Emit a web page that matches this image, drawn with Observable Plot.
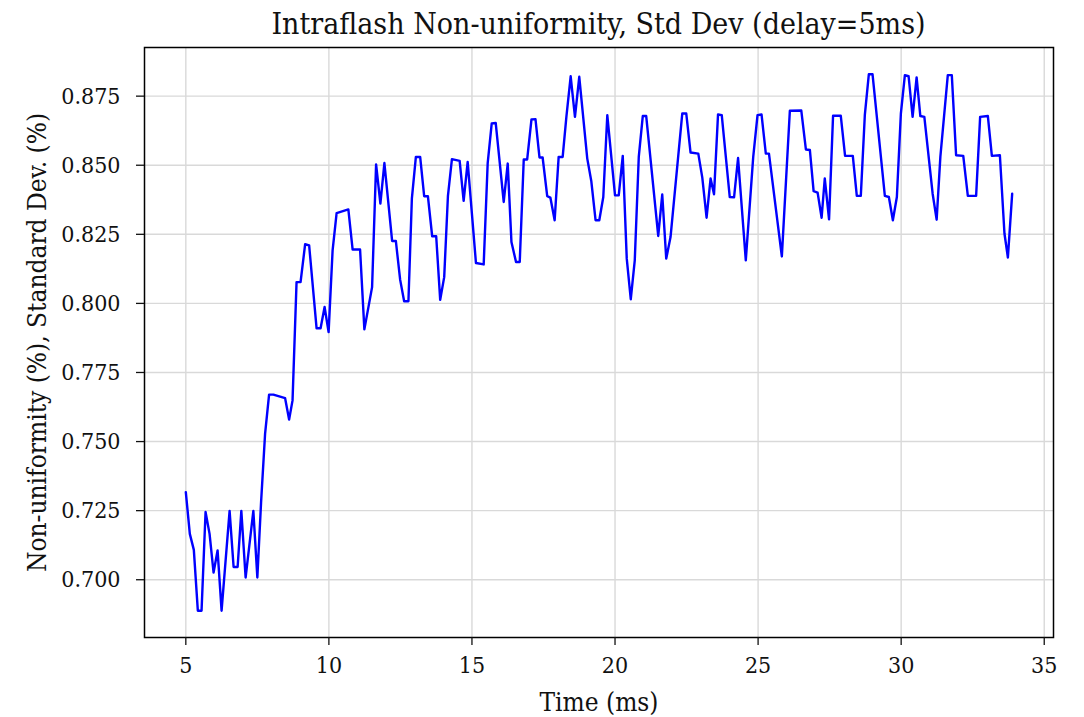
<!DOCTYPE html>
<html>
<head>
<meta charset="utf-8">
<script src="https://cdn.jsdelivr.net/npm/d3@7"></script>
<script src="https://cdn.jsdelivr.net/npm/@observablehq/plot@0.6"></script>
<style>
  html, body { margin: 0; padding: 0; background: #fff; }
  #title {
    width: 1084px; height: 45px; line-height: 48px; box-sizing: border-box;
    padding-left: 113px; text-align: center; white-space: nowrap;
    font-family: "DejaVu Serif Condensed", "DejaVu Serif", serif; font-stretch: condensed;
    font-size: 30px; color: #111;
  }
  svg { display: block; }
</style>
</head>
<body>
<div id="title"></div>
<div id="chart"></div>
<script>
const titleText = "Intraflash Non-uniformity, Std Dev (delay=5ms)";
const xLabel = "Time (ms)";
const yLabel = "Non-uniformity (%), Standard Dev. (%)";
const xTicks = [5, 10, 15, 20, 25, 30, 35];
const yTicks = [0.700, 0.725, 0.750, 0.775, 0.800, 0.825, 0.850, 0.875];

// time (ms) of each vertex of the curve
const times = [
  5.00, 5.14, 5.28, 5.42, 5.55, 5.69, 5.83, 5.97, 6.11, 6.25,
  6.53, 6.67, 6.81, 6.94, 7.09, 7.36, 7.50, 7.63, 7.77, 7.91,
  8.06, 8.47, 8.61, 8.73, 8.87, 9.01, 9.17, 9.31, 9.57, 9.71,
  9.85, 9.99, 10.13, 10.27, 10.68, 10.83, 11.09, 11.24, 11.51, 11.65,
  11.80, 11.94, 12.21, 12.34, 12.49, 12.63, 12.78, 12.90, 13.04, 13.19,
  13.33, 13.46, 13.61, 13.75, 13.89, 14.03, 14.16, 14.30, 14.57, 14.71,
  14.85, 15.14, 15.41, 15.55, 15.69, 15.83, 16.11, 16.25, 16.38, 16.54,
  16.67, 16.81, 16.93, 17.08, 17.22, 17.36, 17.47, 17.63, 17.74, 17.89,
  18.03, 18.17, 18.30, 18.45, 18.60, 18.75, 19.03, 19.17, 19.32, 19.45,
  19.59, 19.73, 20.00, 20.13, 20.27, 20.41, 20.55, 20.69, 20.83, 20.97,
  21.09, 21.51, 21.65, 21.79, 21.94, 22.35, 22.49, 22.64, 22.91, 23.05,
  23.20, 23.34, 23.46, 23.60, 23.73, 24.01, 24.16, 24.30, 24.57, 24.83,
  24.98, 25.12, 25.27, 25.38, 25.83, 26.11, 26.51, 26.67, 26.81, 26.94,
  27.08, 27.22, 27.33, 27.48, 27.62, 27.89, 28.04, 28.31, 28.45, 28.59,
  28.73, 28.87, 29.00, 29.43, 29.57, 29.71, 29.85, 29.99, 30.13, 30.26,
  30.40, 30.54, 30.67, 30.81, 31.10, 31.24, 31.37, 31.63, 31.77, 31.92,
  32.17, 32.33, 32.62, 32.76, 33.03, 33.17, 33.45, 33.61, 33.73, 33.88
];

// standard deviation non-uniformity (%) at each vertex
const stdDev = [
  0.7317, 0.7166, 0.7108, 0.6888, 0.6888, 0.7245, 0.7166, 0.7026, 0.7106, 0.6888,
  0.7249, 0.7046, 0.7046, 0.7249, 0.7008, 0.7249, 0.7008, 0.7280, 0.7528, 0.7670,
  0.7670, 0.7657, 0.7580, 0.7649, 0.8077, 0.8077, 0.8214, 0.8210, 0.7910, 0.7910,
  0.7987, 0.7896, 0.8192, 0.8327, 0.8340, 0.8195, 0.8195, 0.7906, 0.8059, 0.8503,
  0.8361, 0.8508, 0.8226, 0.8226, 0.8086, 0.8008, 0.8008, 0.8379, 0.8530, 0.8530,
  0.8388, 0.8388, 0.8243, 0.8243, 0.8013, 0.8095, 0.8388, 0.8522, 0.8516, 0.8371,
  0.8512, 0.8146, 0.8141, 0.8508, 0.8651, 0.8653, 0.8367, 0.8506, 0.8222, 0.8150,
  0.8150, 0.8521, 0.8521, 0.8666, 0.8667, 0.8528, 0.8528, 0.8388, 0.8383, 0.8301,
  0.8530, 0.8530, 0.8675, 0.8822, 0.8675, 0.8820, 0.8524, 0.8443, 0.8301, 0.8301,
  0.8385, 0.8681, 0.8391, 0.8391, 0.8534, 0.8162, 0.8015, 0.8156, 0.8530, 0.8678,
  0.8678, 0.8244, 0.8394, 0.8162, 0.8240, 0.8687, 0.8687, 0.8546, 0.8542, 0.8455,
  0.8310, 0.8452, 0.8395, 0.8684, 0.8681, 0.8385, 0.8384, 0.8526, 0.8156, 0.8530,
  0.8681, 0.8684, 0.8542, 0.8542, 0.8170, 0.8697, 0.8698, 0.8557, 0.8555, 0.8406,
  0.8401, 0.8310, 0.8452, 0.8304, 0.8679, 0.8679, 0.8534, 0.8534, 0.8389, 0.8389,
  0.8681, 0.8829, 0.8829, 0.8389, 0.8385, 0.8301, 0.8385, 0.8687, 0.8826, 0.8822,
  0.8675, 0.8818, 0.8678, 0.8675, 0.8397, 0.8303, 0.8530, 0.8826, 0.8826, 0.8536,
  0.8534, 0.8389, 0.8389, 0.8675, 0.8678, 0.8534, 0.8536, 0.8253, 0.8166, 0.8397
];

document.getElementById("title").textContent = titleText;

const data = times.map((t, i) => ({t, v: stdDev[i]}));
const xMin = d3.min(times), xMax = d3.max(times);
const yMin = d3.min(stdDev), yMax = d3.max(stdDev);
const xPad = (xMax - xMin) * 0.05, yPad = (yMax - yMin) * 0.05;

const font = '"DejaVu Serif Condensed", "DejaVu Serif", serif';

const chart = Plot.plot({
  width: 1084,
  height: 672,
  marginTop: 2,
  marginLeft: 144,
  marginRight: 31,
  marginBottom: 80,
  style: {fontFamily: font, fontSize: "23px", color: "#111", background: "#fff", fontStretch: "condensed"},
  x: {domain: [xMin - xPad, xMax + xPad], label: null},
  y: {domain: [yMin - yPad, yMax + yPad], label: null},
  marks: [
    Plot.gridX(xTicks, {stroke: "#d9d9d9", strokeOpacity: 1, strokeWidth: 1.4}),
    Plot.gridY(yTicks, {stroke: "#d9d9d9", strokeOpacity: 1, strokeWidth: 1.4}),
    Plot.line(data, {x: "t", y: "v", stroke: "#0000ff", strokeWidth: 2.4}),
    Plot.frame({stroke: "#000", strokeWidth: 1.5}),
    Plot.axisX({ticks: xTicks, tickSize: 8, tickPadding: 11, tickFormat: d3.format("d"), label: null, strokeWidth: 1.3}),
    Plot.axisY({ticks: yTicks, tickSize: 8, tickPadding: 16, tickFormat: d3.format(".3f"), label: null, strokeWidth: 1.3}),
    Plot.text([xLabel], {text: d => d, frameAnchor: "bottom", dy: 73, fontSize: 26}),
    Plot.text([yLabel], {text: d => d, frameAnchor: "left", textAnchor: "middle", rotate: -90, dx: -107, fontSize: 26})
  ]
});
document.getElementById("chart").append(chart);
</script>
</body>
</html>
